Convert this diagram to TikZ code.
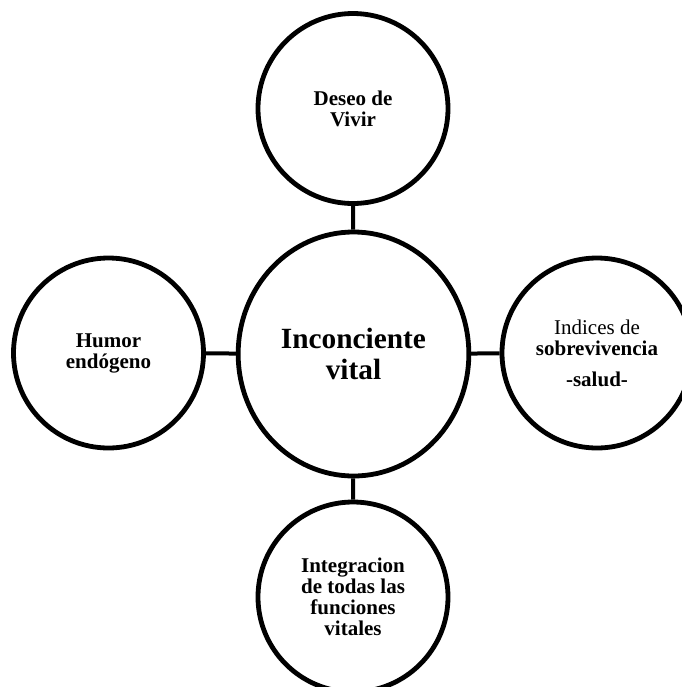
\documentclass[tikz,border=0pt]{standalone}
\usepackage{fontspec}
\setmainfont{Liberation Serif}
\usetikzlibrary{shapes.geometric}
\begin{document}
\begin{tikzpicture}[x=0.75pt,y=-0.75pt,
  bub/.style={circle,draw,line width=3.6pt,minimum size=142.5pt,inner sep=0pt,align=center,
    font=\fontsize{15.75}{15.75}\selectfont},
  hub/.style={ellipse,draw,line width=3.6pt,minimum width=173pt,minimum height=183pt,inner sep=0pt,
    align=center,font=\bfseries\fontsize{22}{23.25}\selectfont},
  link/.style={line width=3pt}]
\useasboundingbox (0,0) rectangle (682,687);
\clip (0,0) rectangle (682,687);
\node[hub] (c) at (353.5,354) {Inconciente\\vital};
\node[bub] (t) at (353,108.5) {\textbf{Deseo de}\\\textbf{Vivir}};
\node[bub] (l) at (108.5,353) {\textbf{Humor}\\\textbf{endógeno}};
\node[bub] (r) at (597,353) {Indices de\\\textbf{sobrevivencia}\\[7.5pt]\textbf{-salud-}};
\node[bub] (b) at (353,597) {\textbf{Integracion}\\\textbf{de todas las}\\\textbf{funciones}\\\textbf{vitales}};
\draw[link] (t) -- (c);
\draw[link] (b) -- (c);
\draw[link] (l) -- (c);
\draw[link] (r) -- (c);
\end{tikzpicture}
\end{document}
